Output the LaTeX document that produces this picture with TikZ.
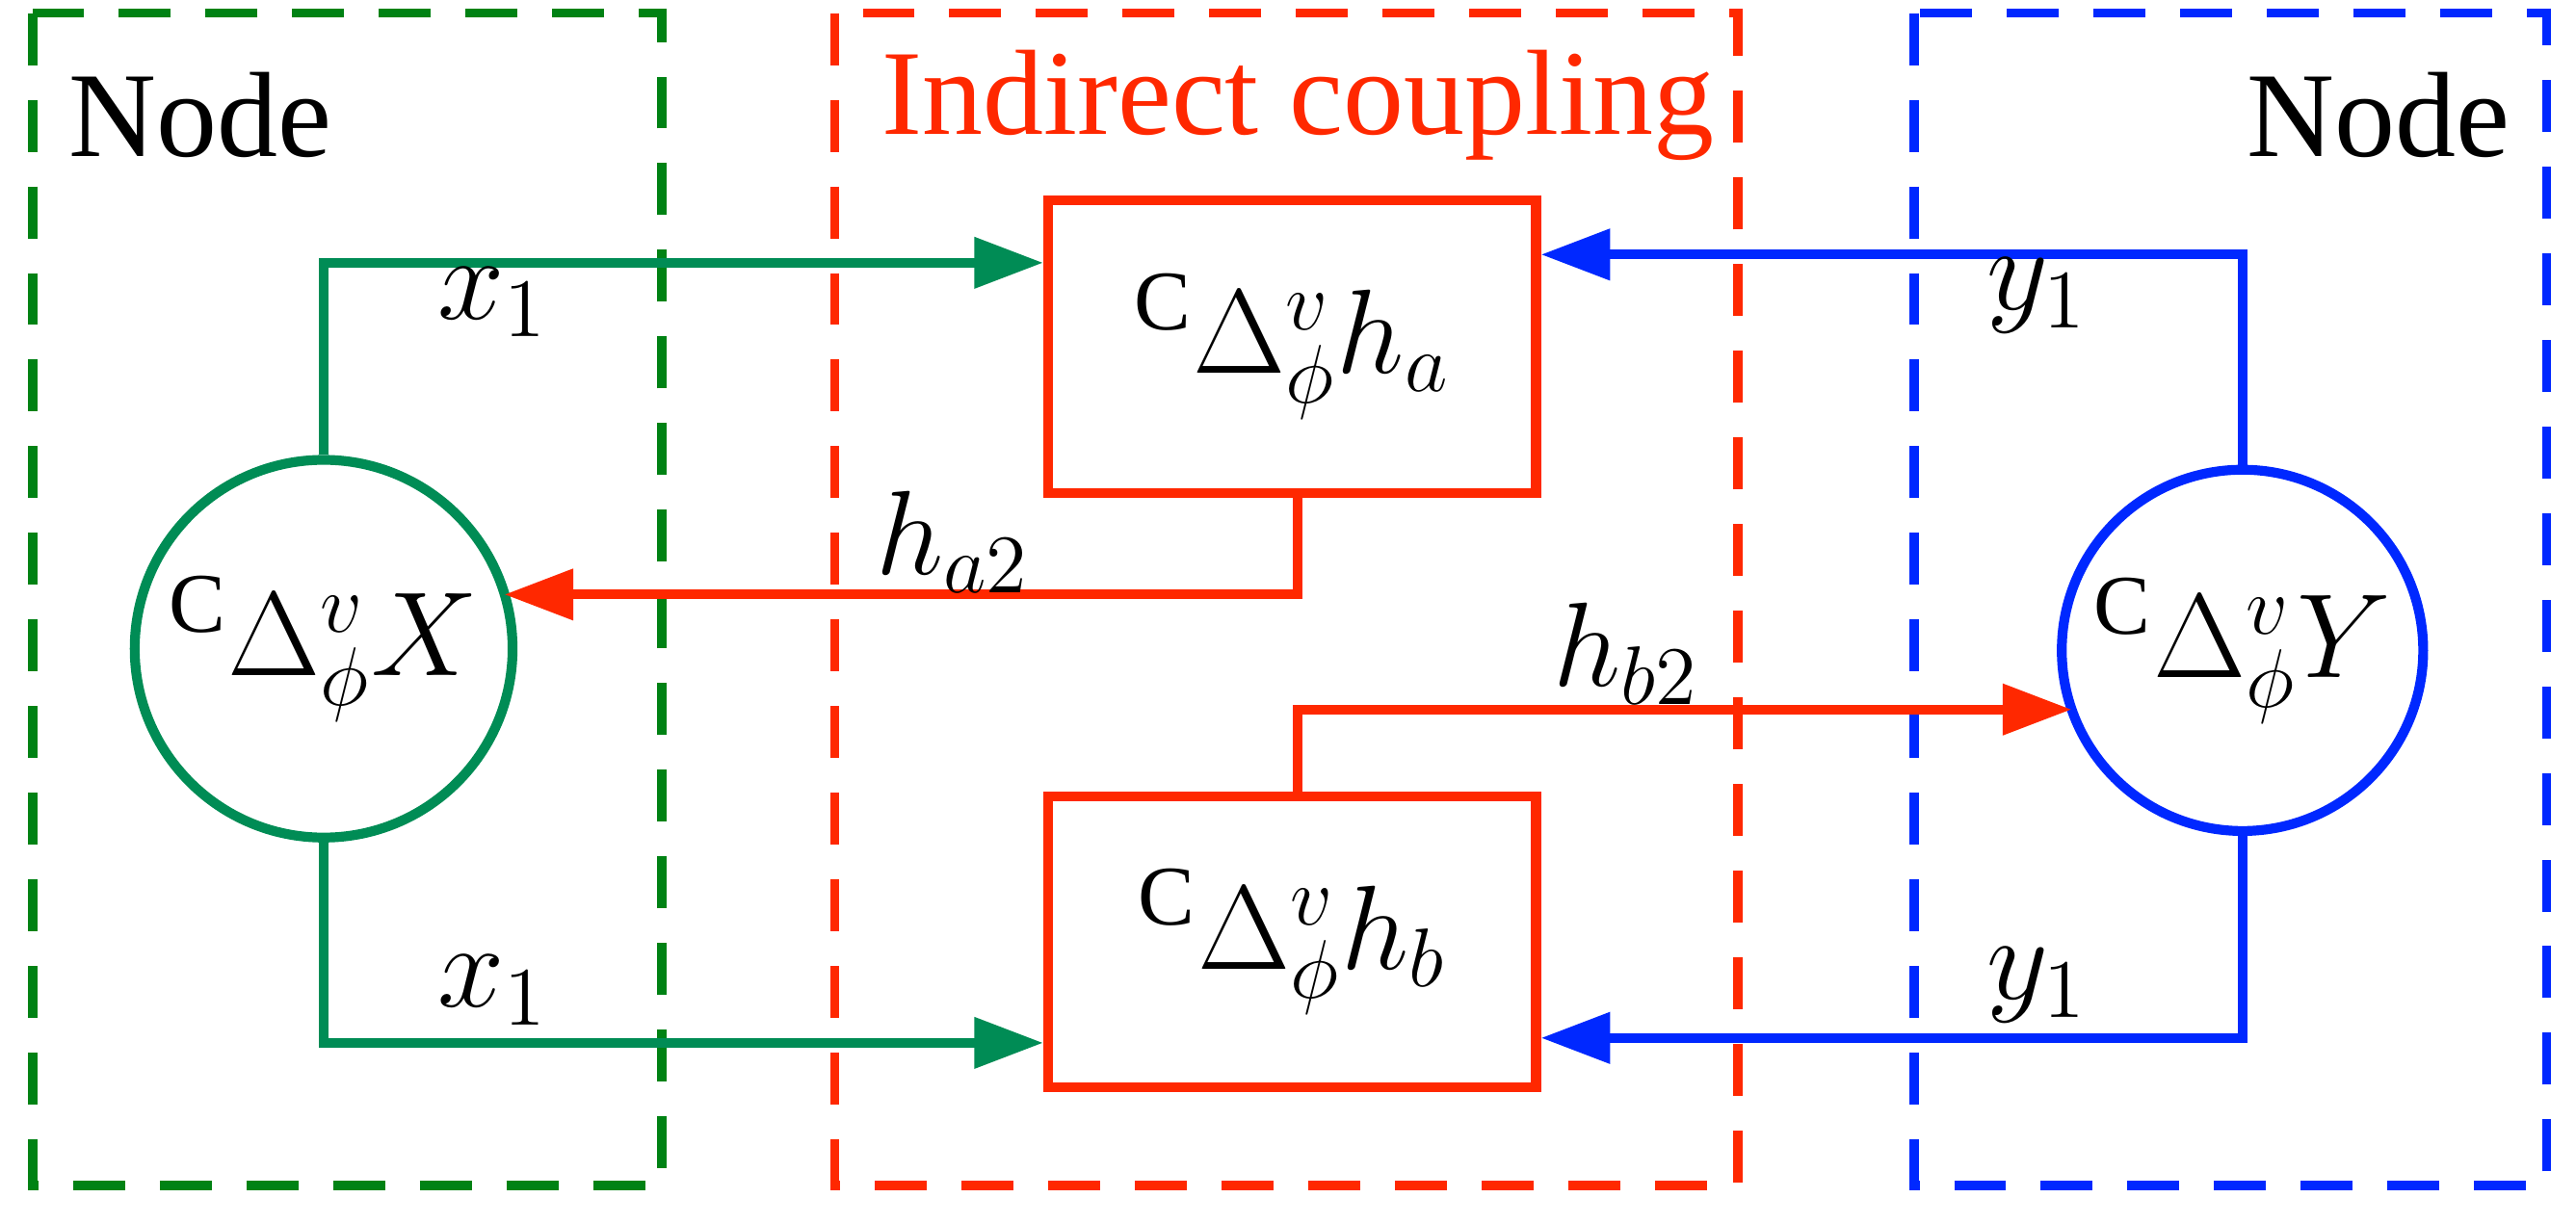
\documentclass[tikz,border=0pt]{standalone}
\usepackage{fontspec}
\setmainfont{Liberation Serif}
\usetikzlibrary{arrows.meta,calc}
\definecolor{gr}{RGB}{0,140,85}
\definecolor{gd}{RGB}{0,130,20}
\definecolor{rd}{RGB}{255,40,0}
\definecolor{bl}{RGB}{0,40,255}
\begin{document}
\begin{tikzpicture}[x=0.01cm,y=-0.01cm,
  dbox/.style={line width=1.6pt,dash pattern=on 9pt off 6pt},
  con/.style={line width=1.7pt,-{Triangle[length=0.42cm,width=0.3cm]}},
  lab/.style={font=\fontsize{21}{24}\selectfont},
  big/.style={font=\fontsize{21}{24}\selectfont}]
\useasboundingbox (0,0) rectangle (1568,745);
\draw[dbox,gd] (20,8) rectangle (403,722);
\draw[dbox,rd] (508,8) rectangle (1058,722);
\draw[dbox,bl] (1165,8) rectangle (1550,722);
\node[big] (n1) at (122,70) {Node};
\node[big,text=rd] (n2) at (790,64) {Indirect coupling};
\node[big] (n3) at (1448,70) {Node};
\node[draw=gr,line width=1.7pt,circle,minimum size=230*0.01cm,lab,inner sep=0] (cx) at (197,395) {${}^{\mathrm{C}}\Delta^{v}_{\phi}X$};
\node[draw=bl,line width=1.7pt,circle,minimum size=220*0.01cm,lab,inner sep=0] (cy) at (1365,396) {${}^{\mathrm{C}}\Delta^{v}_{\phi}Y$};
\node[draw=rd,line width=1.7pt,minimum width=297*0.01cm,minimum height=178*0.01cm,lab] (ha) at (786.5,211) {${}^{\mathrm{C}}\Delta^{v}_{\phi}h_a$};
\node[draw=rd,line width=1.7pt,minimum width=297*0.01cm,minimum height=177*0.01cm,lab] (hb) at (786.5,573.5) {${}^{\mathrm{C}}\Delta^{v}_{\phi}h_b$};
\coordinate (g1) at (197,160); \coordinate (g1e) at (ha.west |- g1);
\coordinate (g2) at (197,635); \coordinate (g2e) at (hb.west |- g2);
\coordinate (b1) at (1365,155); \coordinate (b1e) at (ha.east |- b1);
\coordinate (b2) at (1365,632); \coordinate (b2e) at (hb.east |- b2);
\coordinate (r1) at (790,362); \coordinate (r1e) at (307,362);
\coordinate (r2) at (790,432); \coordinate (r2e) at (1261,432);
\draw[con,gr] (cx.north) -- (g1) -- (g1e);
\draw[con,gr] (cx.south) -- (g2) -- (g2e);
\draw[con,bl] (cy.north) -- (b1) -- (b1e);
\draw[con,bl] (cy.south) -- (b2) -- (b2e);
\draw[con,rd] (ha.south -| r1) -- (r1) -- (r1e);
\draw[con,rd] (hb.north -| r2) -- (r2) -- (r2e);
\node[lab] (lx1) at (300,184) {$x_1$};
\node[lab] (lx2) at (300,603) {$x_1$};
\node[lab] (ly1) at (1240,180) {$y_1$};
\node[lab] (ly2) at (1240,600) {$y_1$};
\node[lab] (la) at (580,330) {$h_{a2}$};
\node[lab] (lb) at (990,398) {$h_{b2}$};
\end{tikzpicture}
\end{document}
